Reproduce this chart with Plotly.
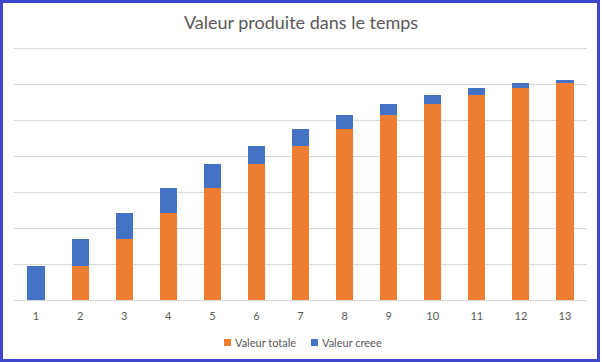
import plotly.graph_objects as go

categories = [str(i) for i in range(1, 14)]
valeur_totale = [0, 0.94, 1.69, 2.42, 3.11, 3.78, 4.28, 4.75, 5.14, 5.44, 5.69, 5.89, 6.03]
valeur_creee = [0.94, 0.75, 0.73, 0.69, 0.67, 0.50, 0.47, 0.39, 0.30, 0.25, 0.20, 0.14, 0.08]
series_names = ["Valeur totale", "Valeur creee"]
series_colors = ["#ED7D31", "#4472C4"]

W, H = 602, 362
L, R, T, B = 14, 15, 47, 62
pw, ph = W - L - R, H - T - B

def px_x(p):
    return (p - L) / pw

def px_y(p):
    return (H - B - p) / ph

fig = go.Figure()
for name, vals, col in zip(series_names, [valeur_totale, valeur_creee], series_colors):
    fig.add_trace(go.Bar(x=categories, y=vals, name=name, showlegend=False,
                         marker=dict(color=col, line=dict(width=0))))

# custom legend (small squares + text), like the Office-style legend
legend_items = [(224, 233), (311, 320)]
shapes = []
annotations = []
for (sx, tx), name, col in zip(legend_items, series_names, series_colors):
    shapes.append(dict(type="rect", xref="paper", yref="paper",
                       x0=px_x(sx), x1=px_x(sx + 7), y0=px_y(346), y1=px_y(339),
                       fillcolor=col, line=dict(width=0)))
    annotations.append(dict(text=name, xref="paper", yref="paper",
                            x=px_x(tx), y=px_y(342.5), xanchor="left", yanchor="middle",
                            showarrow=False, font=dict(family="Lato", size=11, color="#595959")))

shapes.append(dict(type="rect", xref="paper", yref="paper",
                   x0=px_x(1.5), x1=px_x(598.5), y0=px_y(360.5), y1=px_y(1.5),
                   line=dict(color="#3F48CC", width=3), fillcolor="rgba(0,0,0,0)",
                   layer="above"))

fig.update_layout(
    width=W, height=H,
    margin=dict(l=L, r=R, t=T, b=B),
    barmode="stack",
    bargap=0.61,
    showlegend=False,
    paper_bgcolor="white",
    plot_bgcolor="white",
    title=dict(text="Valeur produite dans le temps", x=0.5, xanchor="center",
               y=1 - 22.5 / H, yanchor="middle",
               font=dict(family="Lato", size=18, color="#595959")),
    font=dict(family="Lato", color="#595959"),
    xaxis=dict(type="category", showgrid=False, showline=True, linecolor="#D9D9D9",
               linewidth=1, ticks="", ticklabelstandoff=6,
               tickfont=dict(size=11, color="#595959")),
    yaxis=dict(range=[0, 7.03], tickvals=[0, 1, 2, 3, 4, 5, 6, 7], showticklabels=False,
               showgrid=True, gridcolor="#D9D9D9", gridwidth=1, zeroline=False, showline=False),
    shapes=shapes,
    annotations=annotations,
)

fig.write_html("out.html",
               config={"displayModeBar": False},
               post_script="document.body.style.margin='0';document.body.style.padding='0';"
                           "document.body.style.overflow='hidden';")
